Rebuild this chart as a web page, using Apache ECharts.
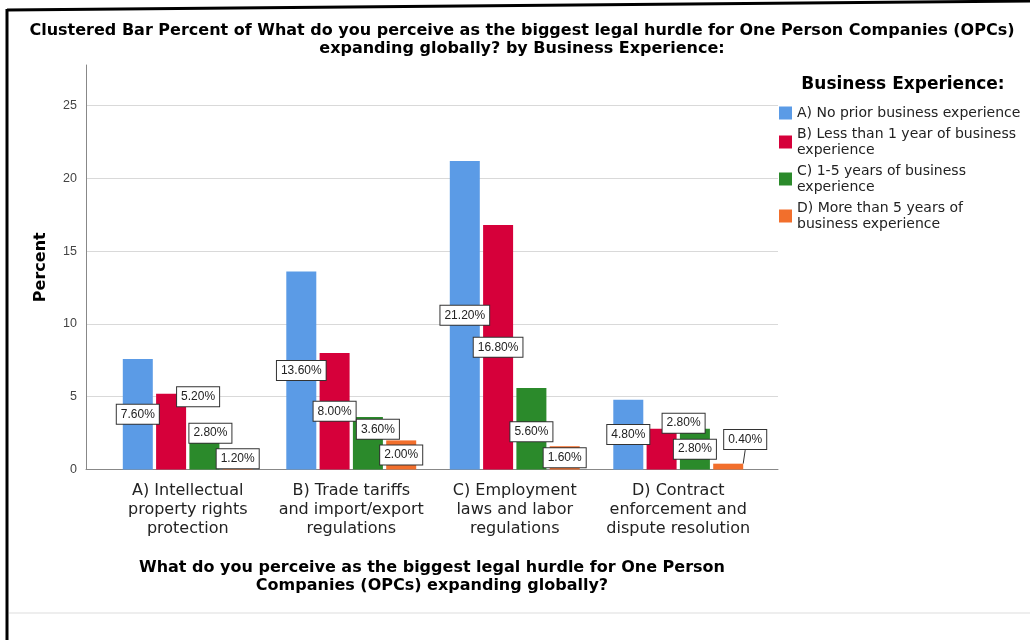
<!DOCTYPE html>
<html>
<head>
<meta charset="utf-8">
<title>Clustered Bar Percent</title>
<script src="https://cdn.jsdelivr.net/npm/echarts@6/dist/echarts.min.js"></script>
<style>
  html, body { margin: 0; padding: 0; background: #fff; }
  #chart { width: 1030px; height: 640px; }
</style>
</head>
<body>
<div id="chart"></div>
<script>
// Response categories (x axis)
const categories = [
  'A) Intellectual\nproperty rights\nprotection',
  'B) Trade tariffs\nand import/export\nregulations',
  'C) Employment\nlaws and labor\nregulations',
  'D) Contract\nenforcement and\ndispute resolution'
];

// Business experience groups (legend)
const groupNames = [
  'A) No prior business experience',
  'B) Less than 1 year of business experience',
  'C) 1-5 years of business experience',
  'D) More than 5 years of business experience'
];
const groupLegendText = [
  'A) No prior business experience',
  'B) Less than 1 year of business\nexperience',
  'C) 1-5 years of business\nexperience',
  'D) More than 5 years of\nbusiness experience'
];

// Percent values per group, one entry per category
const noPriorExperience   = [7.6, 13.6, 21.2, 4.8];
const lessThanOneYear     = [5.2, 8.0, 16.8, 2.8];
const oneToFiveYears      = [2.8, 3.6, 5.6, 2.8];
const moreThanFiveYears   = [1.2, 2.0, 1.6, 0.4];

// Y axis tick values
const yTicks = [0, 5, 10, 15, 20, 25];

const seriesValues = [noPriorExperience, lessThanOneYear, oneToFiveYears, moreThanFiveYears];
const colors = ['#5B9BE6', '#D6003A', '#2B8A2B', '#F26F2C'];

// Label nudges (px) so overlapping value boxes stay readable
const labelShift = [
  [[0, 0], [0, 0], [0, 0], [0, 0]],
  [[27, -35], [0, 0], [0, 0], [22, -26]],
  [[6, -16], [10, -14], [0, 3], [0, 0]],
  [[0, -2], [0, 0], [0, 0], [17, -27]]
];

const FONT = '"DejaVu Sans", Verdana, sans-serif';
const LABEL_FONT = '"Liberation Sans", Arial, sans-serif';
const yMax = 27.8;

const chart = echarts.init(document.getElementById('chart'), null, { renderer: 'canvas' });

const series = seriesValues.map((vals, s) => ({
  name: groupNames[s],
  type: 'bar',
  xAxisIndex: 1,
  yAxisIndex: 1,
  barWidth: 30,
  barGap: '11%',
  itemStyle: { color: colors[s] },
  label: {
    show: true,
    position: 'inside',
    formatter: p => p.value.toFixed(2) + '%',
    fontFamily: LABEL_FONT,
    fontSize: 12,
    color: '#222',
    backgroundColor: '#fff',
    borderColor: '#333',
    borderWidth: 1,
    padding: [4, 4, 3, 4]
  },
  labelLine: {
    show: s === 3,
    lineStyle: { color: '#333', width: 1 }
  },
  labelLayout: p => {
    const d = labelShift[p.seriesIndex][p.dataIndex];
    return { dx: d[0], dy: d[1] };
  },
  data: vals.map((v, i) => ({
    value: v,
    labelLine: { show: s === 3 && i === 3 }
  }))
}));

chart.setOption({
  animation: false,
  title: [
    {
      text: 'Clustered Bar Percent of What do you perceive as the biggest legal hurdle for One Person Companies (OPCs)\nexpanding globally? by Business Experience:',
      left: 517,
      top: 17,
      textAlign: 'center',
      textStyle: { fontFamily: FONT, fontSize: 16, fontWeight: 'bold', color: '#000', lineHeight: 18 }
    },
    {
      text: 'Business Experience:',
      left: 898,
      top: 71,
      textAlign: 'center',
      textStyle: { fontFamily: FONT, fontSize: 17, fontWeight: 'bold', color: '#000' }
    }
  ],
  legend: {
    orient: 'vertical',
    left: 779,
    top: 105,
    padding: 0,
    itemWidth: 13,
    itemHeight: 13,
    itemGap: 5,
    icon: 'rect',
    data: groupNames,
    formatter: name => groupLegendText[groupNames.indexOf(name)],
    textStyle: { fontFamily: FONT, fontSize: 14, color: '#222', lineHeight: 16 }
  },
  grid: [
    { left: 86, right: 252, top: 65, bottom: 170.5 },
    { left: 106, right: 270, top: 65, bottom: 170.5 }
  ],
  xAxis: [
    {
      gridIndex: 0,
      type: 'category',
      data: categories,
      axisLine: { show: true, lineStyle: { color: '#888', width: 1 } },
      axisTick: { show: false },
      axisLabel: { show: false },
      name: 'What do you perceive as the biggest legal hurdle for One Person\nCompanies (OPCs) expanding globally?',
      nameLocation: 'middle',
      nameGap: 89,
      nameTextStyle: { fontFamily: FONT, fontSize: 16, fontWeight: 'bold', color: '#000', lineHeight: 18 }
    },
    {
      gridIndex: 1,
      type: 'category',
      data: categories,
      axisLine: { show: false },
      axisTick: { show: false },
      axisLabel: {
        margin: 12,
        fontFamily: FONT,
        fontSize: 16,
        lineHeight: 19,
        color: '#222',
        interval: 0
      }
    }
  ],
  yAxis: [
    {
      gridIndex: 0,
      type: 'value',
      min: 0,
      max: yMax,
      interval: 5,
      axisLine: { show: true, lineStyle: { color: '#888', width: 1 } },
      axisTick: { show: false },
      axisLabel: {
        margin: 9,
        fontFamily: LABEL_FONT,
        fontSize: 12.5,
        color: '#444',
        customValues: yTicks
      },
      splitLine: { show: true, showMaxLine: false, showMinLine: false, lineStyle: { color: '#d9d9d9', width: 1 } },
      name: 'Percent',
      nameLocation: 'middle',
      nameGap: 37,
      nameTextStyle: { fontFamily: FONT, fontSize: 16, fontWeight: 'bold', color: '#000' }
    },
    {
      gridIndex: 1,
      type: 'value',
      min: 0,
      max: yMax,
      interval: 5,
      show: false,
      splitLine: { show: false }
    }
  ],
  graphic: [
    {
      type: 'line',
      shape: { x1: 7, y1: 10, x2: 1030, y2: 1 },
      style: { stroke: '#000', lineWidth: 3 },
      silent: true
    },
    {
      type: 'line',
      shape: { x1: 7, y1: 9, x2: 7, y2: 640 },
      style: { stroke: '#000', lineWidth: 3 },
      silent: true
    },
    {
      type: 'line',
      shape: { x1: 9, y1: 613, x2: 1030, y2: 613 },
      style: { stroke: '#eeeeee', lineWidth: 2 },
      silent: true
    }
  ],
  series: series
});
</script>
</body>
</html>
